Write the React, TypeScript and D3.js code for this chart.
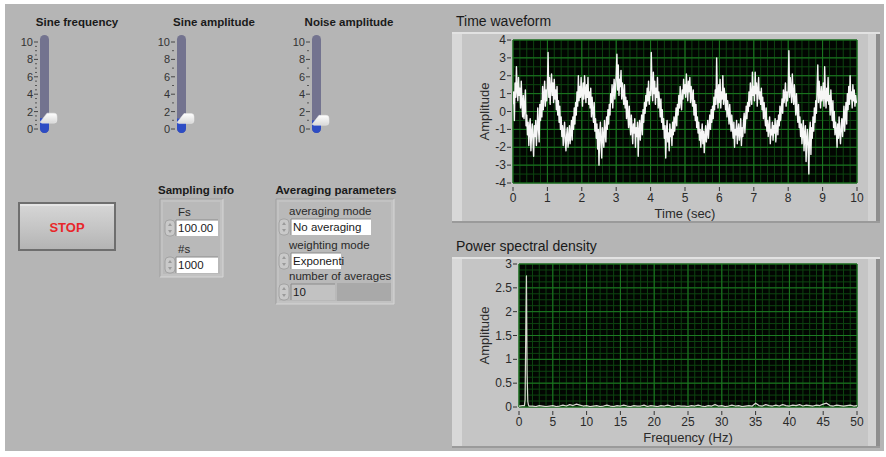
import React from "react";
import * as d3 from "d3";

const FONT = "'Liberation Sans', Arial, sans-serif";

// ---------- Front-panel control data ----------
const sliderTitles = ["Sine frequency", "Sine amplitude", "Noise amplitude"];
const sliderValues = [1.25, 1.2, 1.0];
const sliderScaleLabels = [0, 2, 4, 6, 8, 10];
const sliderMinorSteps = [0.5, 1, 1];
const samplingTitle = "Sampling info";
const samplingLabels = ["Fs", "#s"];
const samplingValues = ["100.00", "1000"];
const averagingTitle = "Averaging parameters";
const averagingLabels = ["averaging mode", "weighting mode", "number of averages"];
const averagingValues = ["No averaging", "Exponenti", "10"];
const stopLabel = "STOP";

// ---------- Time waveform (sampled every 0.02 s) ----------
const sampleInterval = 0.02;
const wave0 = [0.4, 1.1, -0.5, 1.6, 0.8, 2.5, 1.2, 0.6, 1.9, 0.9, 1.3, 0.2, 1.7, 0.5, -0.3, 0.9, -0.4, 0.3, 1.2, -0.8, -0.2, -1.3, -0.6, -1.9, -0.9, -0.4, -2.2, -1.2, -0.7, -1.6, -2.5, -0.8, -1.4, -0.5, -1.9, -1.1, 0.2, -0.9, -1.7, 0.4, -0.5, 0.6, -0.3, 1.4, 0.1, 0.9, 1.7, 0.3, 1.2, 0.6];
const wave1 = [1.5, 3.3, 0.8, 1.9, 0.4, 1.3, 2.1, 0.9, 1.6, 0.5, 1.8, 0.7, 1.2, 0.1, 1.4, -0.2, 0.6, -0.6, 0.3, -1.0, -0.3, -1.4, -0.8, -1.9, -1.1, -0.6, -1.7, -2.2, -1.3, -0.9, -2.0, -1.5, -0.8, -1.8, -1.2, -0.5, -1.6, -0.3, -1.0, 0.2, -0.7, 0.5, -0.2, 1.1, 0.3, 2.0, 0.6, 1.4, 0.8, 1.9];
const wave2 = [1.0, 0.3, 1.6, 0.7, 2.0, 1.2, 0.5, 1.5, 0.8, 1.9, 0.4, 1.1, 0.2, 1.3, -0.3, 0.8, 0.0, -0.6, 0.5, -1.1, -0.4, -1.5, -0.7, -2.1, -1.0, -3.0, -1.3, -0.6, -1.8, -2.6, -0.9, -1.4, -2.0, -0.5, -1.2, -1.7, -0.3, -1.0, 0.1, -0.7, 0.4, -0.2, 1.0, 0.5, 1.5, 0.2, 1.1, 1.8, 0.7, 1.3];
const wave3 = [2.0, 3.2, 1.2, 2.6, 0.9, 1.8, 1.4, 2.3, 0.7, 1.6, 1.0, 0.4, 1.5, 0.2, 0.8, -0.4, 0.6, -0.2, -0.9, 0.3, -0.6, -1.3, -0.2, -1.0, -1.8, -0.7, -1.2, -0.4, -2.0, -0.9, -1.4, -0.6, -2.5, -1.1, -0.5, -1.6, -0.8, -0.2, -1.3, 0.1, -0.6, 0.5, -0.1, 0.9, 0.3, 1.3, 0.6, 1.7, 0.4, 1.1];
const wave4 = [0.9, 3.3, 1.4, 0.6, 2.2, 1.0, 1.7, 0.4, 1.3, 0.8, 1.9, 0.2, 1.1, 0.5, -0.3, 0.7, -0.6, 0.1, -1.0, -0.4, -1.5, -0.8, -2.6, -1.1, -0.5, -1.7, -1.2, -2.2, -0.7, -1.4, -1.0, -1.9, -0.6, -1.3, -0.3, -1.1, -0.5, 0.2, -0.8, 0.4, -0.2, 0.9, 0.2, 1.4, 0.6, 0.1, 1.2, 0.7, 1.8, 1.0];
const wave5 = [1.5, 0.8, 2.1, 1.3, 0.6, 1.7, 1.1, 1.9, 0.5, 1.4, 0.9, 0.3, 1.2, -0.2, 0.6, -0.5, 0.4, -0.9, -0.3, -1.2, -0.6, -1.6, -1.0, -2.0, -1.3, -0.7, -1.8, -1.1, -2.3, -1.4, -0.8, -1.7, -1.2, -0.5, -1.5, -0.9, -0.2, -1.0, 0.1, -0.6, 0.3, -0.4, 0.8, 0.1, 1.2, 0.4, 3.0, 0.9, 0.2, 1.5];
const wave6 = [0.5, 1.8, 0.2, 1.1, 0.7, 2.0, 0.4, 1.3, 0.9, 0.1, 1.0, -0.3, 0.6, 0.0, -0.7, 0.4, -0.4, -1.1, -0.2, -0.9, -1.5, -0.6, -2.0, -1.0, -1.3, -0.5, -1.8, -1.1, -0.7, -1.6, -1.2, -0.4, -1.9, -0.9, -1.4, -0.6, -0.1, -1.2, -0.5, 0.3, -0.4, 0.5, 0.0, 1.1, 0.3, 1.6, 0.8, 0.4, 2.2, 0.9];
const wave7 = [1.4, 0.6, 2.2, 1.0, 1.6, 0.3, 1.2, 1.9, 0.7, 1.1, 0.4, 1.3, 0.1, 0.8, -0.4, 0.5, -0.2, -0.8, 0.2, -1.1, -0.5, -1.4, -0.9, -0.3, -1.8, -1.0, -1.3, -0.6, -1.6, -0.8, -1.2, -0.4, -1.7, -0.9, -0.5, -1.3, -0.2, -0.8, 0.3, -0.5, 0.1, 0.7, -0.1, 1.2, 0.5, 0.9, 1.6, 0.3, 1.1, 0.6];
const wave8 = [1.2, 3.4, 0.8, 1.9, 1.3, 0.5, 2.1, 1.0, 0.4, 1.5, 0.7, -0.2, 1.0, 0.1, -0.6, 0.4, -0.9, -0.3, -1.4, -0.7, -1.8, -1.1, -0.5, -2.2, -1.3, -0.8, -2.8, -1.6, -1.0, -2.0, -3.5, -1.2, -0.6, -2.4, -0.9, -1.5, -0.3, -1.1, 0.2, -0.6, 0.6, -0.1, 1.3, 2.6, 0.5, 1.7, 0.9, 0.2, 1.4, 0.6];
const wave9 = [0.8, 1.6, 0.3, 2.5, 0.9, 0.2, 1.3, 0.6, 1.9, 0.4, 0.9, -0.2, 1.2, 0.3, -0.5, 0.6, -0.9, 0.0, -1.3, -0.6, -1.0, -2.0, -0.7, -1.5, -0.3, -1.2, -1.8, -0.8, -0.4, -1.4, -0.6, 0.3, -1.1, -0.2, 0.5, -0.7, 1.0, 0.1, 1.4, 0.4, 2.0, 0.7, 1.1, 0.2, 1.5, 0.6, 1.2, 0.3, 0.9, 0.5, 0.6];
const waveform = [...wave0, ...wave1, ...wave2, ...wave3, ...wave4, ...wave5, ...wave6, ...wave7, ...wave8, ...wave9];

const timeXTicks = [0, 1, 2, 3, 4, 5, 6, 7, 8, 9, 10];
const timeYTicks = [-4, -3, -2, -1, 0, 1, 2, 3, 4];

// ---------- Power spectral density ----------
const psdPeakFreq = [0, 0.5, 0.8, 0.9, 1.0, 1.1, 1.2, 1.3, 1.4, 1.5];
const psdPeakAmp = [0.02, 0.03, 0.03, 0.15, 1.55, 2.75, 0.7, 0.12, 0.04, 0.02];
const psdFloorStart = 2;
const psdFloorStep = 0.5;
const psdFloorAmp = [0.02, 0.01, 0.03, 0.02, 0.01, 0.02, 0.03, 0.01, 0.02, 0.04, 0.02, 0.05, 0.03, 0.06, 0.04, 0.02, 0.03, 0.01, 0.02, 0.03, 0.01, 0.02, 0.04, 0.02, 0.01, 0.03, 0.02, 0.04, 0.02, 0.01, 0.03, 0.02, 0.02, 0.04, 0.01, 0.03, 0.02, 0.01, 0.03, 0.02, 0.04, 0.02, 0.01, 0.03, 0.02, 0.02, 0.01, 0.03, 0.02, 0.04, 0.02, 0.01, 0.03, 0.02, 0.05, 0.02, 0.03, 0.01, 0.02, 0.04, 0.02, 0.03, 0.01, 0.02, 0.03, 0.02, 0.08, 0.03, 0.02, 0.05, 0.03, 0.02, 0.04, 0.02, 0.05, 0.03, 0.02, 0.04, 0.03, 0.05, 0.02, 0.04, 0.03, 0.02, 0.04, 0.03, 0.06, 0.08, 0.03, 0.02, 0.04, 0.03, 0.02, 0.03, 0.04, 0.02, 0.03];
const psdXTicks = [0, 5, 10, 15, 20, 25, 30, 35, 40, 45, 50];
const psdYTicks = [0, 0.5, 1, 1.5, 2, 2.5, 3];

type Pt = [number, number];

function Graph(props: {
  title: string;
  titleY: number;
  frame: { x: number; y: number; w: number; h: number };
  plot: { l: number; r: number; t: number; b: number };
  xDomain: [number, number];
  yDomain: [number, number];
  xTicks: number[];
  yTicks: number[];
  xMinor: number;
  yMinor: number;
  xLabel: string;
  data: Pt[];
  lineColor: string;
  lineWidth: number;
  id: string;
}) {
  const { frame, plot } = props;
  const x = d3.scaleLinear().domain(props.xDomain).range([plot.l, plot.r]);
  const y = d3.scaleLinear().domain(props.yDomain).range([plot.b, plot.t]);
  const xMinorTicks = d3.range(props.xDomain[0], props.xDomain[1] + 1e-9, props.xMinor);
  const yMinorTicks = d3.range(props.yDomain[0], props.yDomain[1] + 1e-9, props.yMinor);
  const line = d3
    .line<Pt>()
    .x((d) => x(d[0]))
    .y((d) => y(d[1]));
  const fmt = (v: number) => String(v);
  return (
    <g>
      <text x={456} y={props.titleY} fontFamily={FONT} fontSize={14} fill="#1a1a1a">
        {props.title}
      </text>
      {/* frame */}
      <rect x={frame.x} y={frame.y} width={frame.w} height={frame.h} fill="#c5c5c5" />
      <rect x={frame.x} y={frame.y} width={10} height={frame.h} fill="#d8d8d8" />
      <rect x={frame.x + frame.w - 12} y={frame.y} width={8} height={frame.h} fill="#d2d2d2" />
      <rect x={frame.x + frame.w - 4} y={frame.y} width={4} height={frame.h} fill="#8e8e8e" />
      <rect x={frame.x} y={frame.y} width={frame.w} height={2} fill="#e2e2e2" />
      <rect x={frame.x} y={frame.y + frame.h - 2} width={frame.w} height={2} fill="#9a9a9a" />
      {/* plot */}
      <clipPath id={props.id}>
        <rect x={plot.l} y={plot.t} width={plot.r - plot.l} height={plot.b - plot.t} />
      </clipPath>
      <rect x={plot.l} y={plot.t} width={plot.r - plot.l} height={plot.b - plot.t} fill="#020602" />
      {xMinorTicks.map((v, i) => (
        <line key={"xm" + i} x1={x(v)} x2={x(v)} y1={plot.t} y2={plot.b} stroke="#0e4511" strokeWidth={1} />
      ))}
      {yMinorTicks.map((v, i) => (
        <line key={"ym" + i} x1={plot.l} x2={plot.r} y1={y(v)} y2={y(v)} stroke="#0e4511" strokeWidth={1} />
      ))}
      {props.xTicks.map((v, i) => (
        <line key={"xg" + i} x1={x(v)} x2={x(v)} y1={plot.t} y2={plot.b} stroke="#1c7a22" strokeWidth={1} />
      ))}
      {props.yTicks.map((v, i) => (
        <line key={"yg" + i} x1={plot.l} x2={plot.r} y1={y(v)} y2={y(v)} stroke="#1c7a22" strokeWidth={1} />
      ))}
      <path
        d={line(props.data) || ""}
        fill="none"
        stroke={props.lineColor}
        strokeWidth={props.lineWidth}
        strokeLinejoin="round"
        clipPath={`url(#${props.id})`}
      />
      {/* axes */}
      {props.yTicks.map((v, i) => (
        <g key={"yt" + i}>
          <line x1={plot.l - 6} x2={plot.l - 2} y1={y(v)} y2={y(v)} stroke="#333" />
          <text x={plot.l - 7} y={y(v) + 4} textAnchor="end" fontFamily={FONT} fontSize={12} fill="#2a2a2a">
            {fmt(v)}
          </text>
        </g>
      ))}
      {props.xTicks.map((v, i) => (
        <g key={"xt" + i}>
          <line x1={x(v)} x2={x(v)} y1={plot.b + 4} y2={plot.b + 8} stroke="#333" />
          <text x={x(v)} y={plot.b + 19} textAnchor="middle" fontFamily={FONT} fontSize={12} fill="#2a2a2a">
            {fmt(v)}
          </text>
        </g>
      ))}
      <text x={(plot.l + plot.r) / 2} y={plot.b + 35} textAnchor="middle" fontFamily={FONT} fontSize={13} fill="#2a2a2a">
        {props.xLabel}
      </text>
      <text
        transform={`translate(489,${(plot.t + plot.b) / 2}) rotate(-90)`}
        textAnchor="middle"
        fontFamily={FONT}
        fontSize={13}
        fill="#2a2a2a"
      >
        Amplitude
      </text>
    </g>
  );
}

function Slider(props: { title: string; value: number; trackX: number; minor: number; idx: number }) {
  const { trackX } = props;
  const y = d3.scaleLinear().domain([0, 10]).range([129, 42]);
  const tw = 9;
  const vy = y(props.value);
  const minors = d3.range(0, 10 + 1e-9, props.minor).filter((v) => Math.abs(v % 2) > 1e-6);
  return (
    <g>
      <text x={trackX + 37} y={26} textAnchor="middle" fontFamily={FONT} fontSize={11.5} fontWeight="bold" fill="#1a1a1a">
        {props.title}
      </text>
      {sliderScaleLabels.map((v) => (
        <g key={v}>
          <text x={trackX - 7} y={y(v) + 4} textAnchor="end" fontFamily={FONT} fontSize={11} fill="#333">
            {v}
          </text>
          <line x1={trackX - 6} x2={trackX - 2} y1={y(v)} y2={y(v)} stroke="#444" />
        </g>
      ))}
      {minors.map((v, i) => (
        <line key={i} x1={trackX - 5} x2={trackX - 3} y1={y(v)} y2={y(v)} stroke="#555" />
      ))}
      <rect x={trackX} y={35} width={tw} height={98} rx={4.5} fill="#73738f" />
      <clipPath id={"trk" + props.idx}>
        <rect x={trackX} y={35} width={tw} height={98} rx={4.5} />
      </clipPath>
      <rect x={trackX} y={vy} width={tw} height={133 - vy} fill="#2d4cc4" clipPath={`url(#trk${props.idx})`} />
      <path
        d={`M${trackX},${vy + 4} L${trackX + 7},${vy - 5} L${trackX + 14},${vy - 5} Q${trackX + 17},${vy - 5} ${trackX + 17},${vy - 2} L${trackX + 17},${vy + 2} Q${trackX + 17},${vy + 5} ${trackX + 14},${vy + 5} L${trackX + 2},${vy + 5} Z`}
        fill="url(#thumbGrad)"
        stroke="#e8e8e8"
        strokeWidth={0.5}
      />
    </g>
  );
}

function Spinner(props: { x: number; y: number; h: number }) {
  const { x, y, h } = props;
  const cx = x + 5;
  return (
    <g>
      <rect x={x} y={y} width={10} height={h} rx={4} fill="#c9c9c9" stroke="#9a9a9a" strokeWidth={0.8} />
      <path d={`M${cx - 2},${y + h / 2 - 2} L${cx},${y + 3} L${cx + 2},${y + h / 2 - 2} Z`} fill="#9a9a9a" />
      <path d={`M${cx - 2},${y + h / 2 + 2} L${cx},${y + h - 3} L${cx + 2},${y + h / 2 + 2} Z`} fill="#9a9a9a" />
    </g>
  );
}

function InputBox(props: { x: number; y: number; w: number; h: number; text: string; fill?: string }) {
  return (
    <g>
      <rect x={props.x} y={props.y} width={props.w} height={props.h} fill={props.fill || "#ffffff"} />
      <path
        d={`M${props.x},${props.y + props.h} L${props.x},${props.y} L${props.x + props.w},${props.y}`}
        fill="none"
        stroke="#8a8a8a"
      />
      <text x={props.x + 2} y={props.y + props.h / 2 + 4} fontFamily={FONT} fontSize={11.5} fill="#1a1a1a">
        {props.text}
      </text>
    </g>
  );
}

function ClusterBox(props: { x: number; y: number; w: number; h: number }) {
  const { x, y, w, h } = props;
  return (
    <g>
      <rect x={x} y={y} width={w} height={h} fill="#c2c2c2" />
      <rect x={x + 3} y={y + 3} width={w - 6} height={h - 6} fill="#b9b9b9" />
      <path d={`M${x},${y + h} L${x},${y} L${x + w},${y}`} fill="none" stroke="#9e9e9e" />
      <path d={`M${x + w},${y} L${x + w},${y + h} L${x},${y + h}`} fill="none" stroke="#d6d6d6" />
    </g>
  );
}

export default function App() {
  const timeData: Pt[] = waveform.map((v, i) => [i * sampleInterval, v]);
  const psdData: Pt[] = [
    ...psdPeakFreq.map((f, i) => [f, psdPeakAmp[i]] as Pt),
    ...psdFloorAmp.map((a, i) => [psdFloorStart + i * psdFloorStep, a] as Pt),
  ];
  const trackXs = [40, 177, 312];
  return (
    <svg width={886} height={457} style={{ position: "absolute", left: 0, top: 0 }}>
      <defs>
        <linearGradient id="thumbGrad" x1="0" y1="0" x2="0" y2="1">
          <stop offset="0" stopColor="#ffffff" />
          <stop offset="1" stopColor="#d8d8d8" />
        </linearGradient>
        <linearGradient id="stopGrad" x1="0" y1="0" x2="0" y2="1">
          <stop offset="0" stopColor="#d6d6d6" />
          <stop offset="0.5" stopColor="#c6c6c6" />
          <stop offset="1" stopColor="#b4b4b4" />
        </linearGradient>
      </defs>
      <rect x={0} y={0} width={886} height={457} fill="#ffffff" />
      <rect x={5} y={4} width={879} height={447} fill="#b5b5b5" />

      {sliderTitles.map((t, i) => (
        <Slider key={t} title={t} value={sliderValues[i]} trackX={trackXs[i]} minor={sliderMinorSteps[i]} idx={i} />
      ))}

      {/* STOP button */}
      <rect x={18} y={202} width={98} height={49} fill="#6e6e6e" />
      <rect x={20} y={204} width={94} height={45} fill="url(#stopGrad)" />
      <rect x={20} y={204} width={94} height={2} fill="#e4e4e4" />
      <text x={67} y={232} textAnchor="middle" fontFamily={FONT} fontSize={13} fontWeight="bold" fill="#e8262a">
        {stopLabel}
      </text>

      {/* Sampling info */}
      <text x={196} y={194} textAnchor="middle" fontFamily={FONT} fontSize={11.5} fontWeight="bold" fill="#1a1a1a">
        {samplingTitle}
      </text>
      <ClusterBox x={160} y={199} w={63} h={78} />
      {samplingLabels.map((l, i) => (
        <g key={l}>
          <text x={178} y={216 + i * 37} fontFamily={FONT} fontSize={11.5} fill="#2a2a2a">
            {l}
          </text>
          <Spinner x={165} y={220 + i * 37} h={16} />
          <InputBox x={176} y={220 + i * 37} w={42} h={16} text={samplingValues[i]} />
        </g>
      ))}

      {/* Averaging parameters */}
      <text x={336} y={194} textAnchor="middle" fontFamily={FONT} fontSize={11.5} fontWeight="bold" fill="#1a1a1a">
        {averagingTitle}
      </text>
      <ClusterBox x={276} y={199} w={118} h={105} />
      <rect x={337} y={283} width={54} height={18} fill="#a9a9a9" />
      {averagingLabels.map((l, i) => {
        const by = [219, 253, 284][i];
        const bw = [80, 50, 44][i];
        return (
          <g key={l}>
            <text x={289} y={by - 4} fontFamily={FONT} fontSize={11.5} fill="#2a2a2a">
              {l}
            </text>
            <Spinner x={279} y={by} h={16} />
            <InputBox x={291} y={by} w={bw} h={16} text={averagingValues[i]} fill={i === 2 ? "#c2c2c2" : "#ffffff"} />
          </g>
        );
      })}

      <Graph
        id="clipTime"
        title="Time waveform"
        titleY={26}
        frame={{ x: 452, y: 32, w: 428, h: 191 }}
        plot={{ l: 513, r: 857, t: 40, b: 183 }}
        xDomain={[0, 10]}
        yDomain={[-4, 4]}
        xTicks={timeXTicks}
        yTicks={timeYTicks}
        xMinor={0.2}
        yMinor={0.5}
        xLabel="Time (sec)"
        data={timeData}
        lineColor="#f6f6f6"
        lineWidth={1.4}
      />
      <Graph
        id="clipPsd"
        title="Power spectral density"
        titleY={251}
        frame={{ x: 452, y: 257, w: 428, h: 191 }}
        plot={{ l: 519, r: 857, t: 264, b: 407 }}
        xDomain={[0, 50]}
        yDomain={[0, 3]}
        xTicks={psdXTicks}
        yTicks={psdYTicks}
        xMinor={1}
        yMinor={0.125}
        xLabel="Frequency (Hz)"
        data={psdData}
        lineColor="#d8d8d0"
        lineWidth={1.2}
      />
    </svg>
  );
}
